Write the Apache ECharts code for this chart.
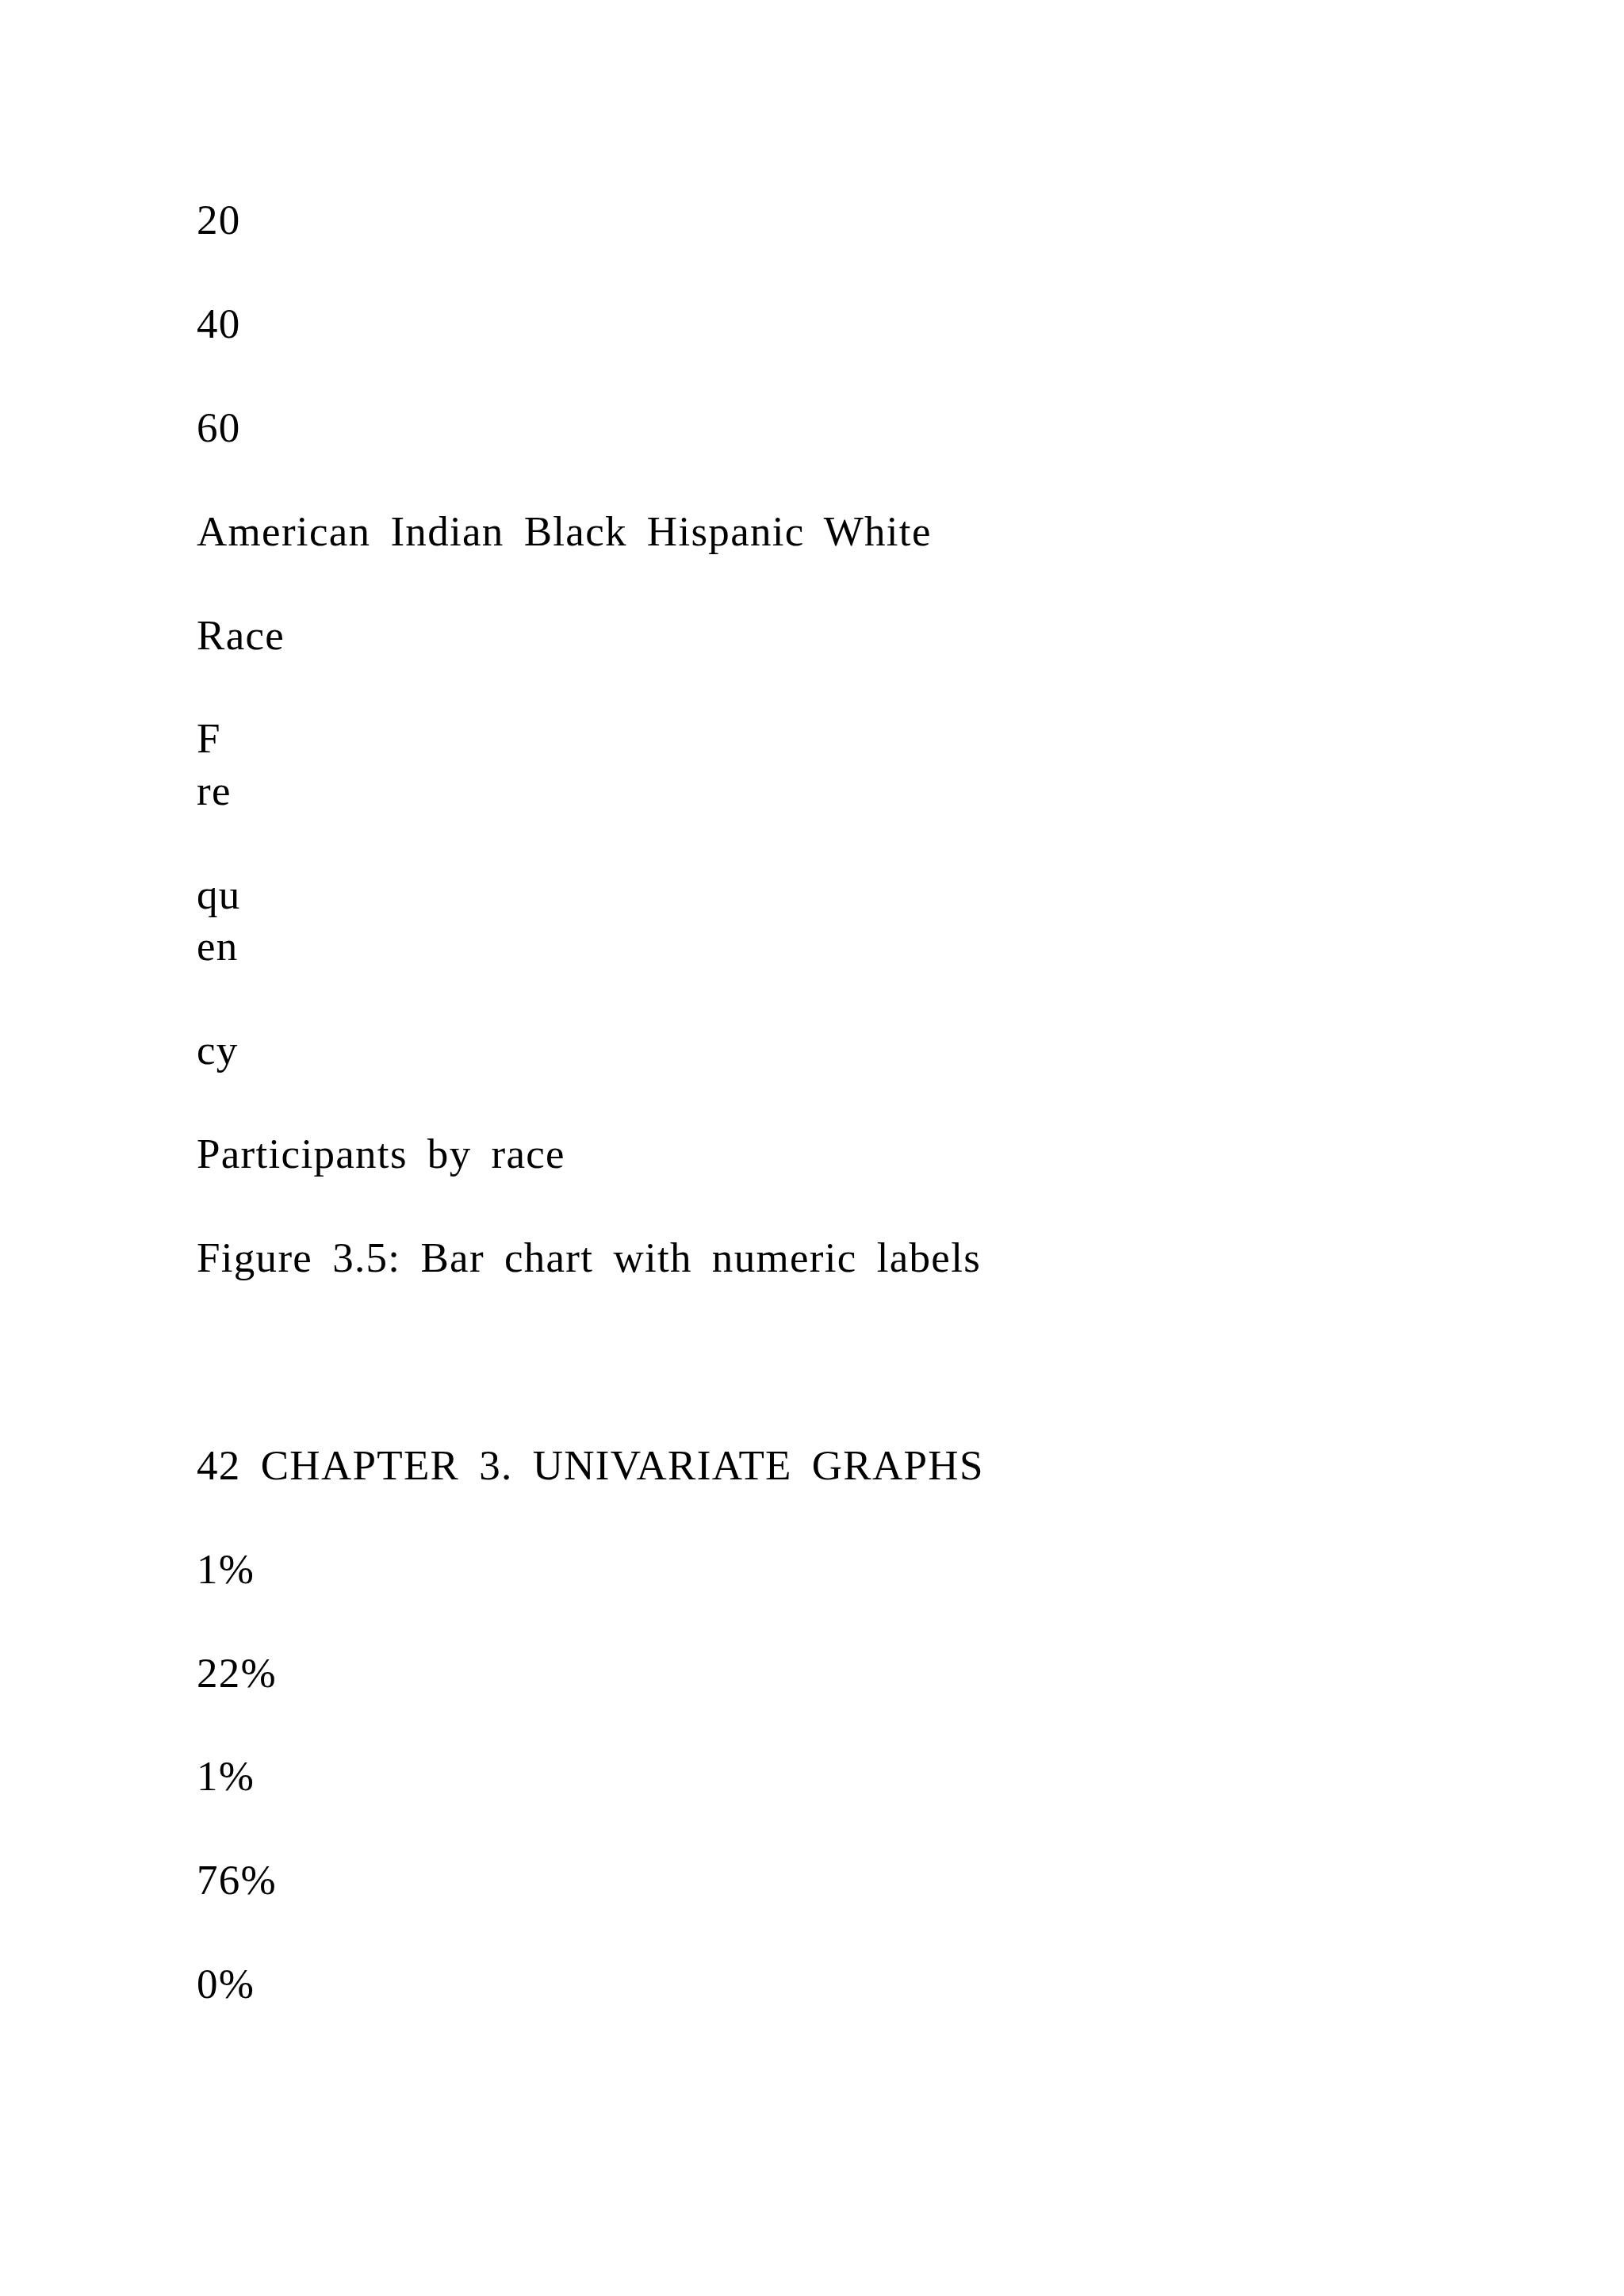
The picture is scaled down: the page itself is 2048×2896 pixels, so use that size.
<!DOCTYPE html>
<html>
<head>
<meta charset="utf-8">
<script src="https://cdn.jsdelivr.net/npm/echarts@6/dist/echarts.min.js"></script>
<style>
    html, body { margin: 0; padding: 0; background: #fff; }
    #main { width: 2048px; height: 2896px; }
    /* the page text is set a little loose, like the printed source */
    #main text { letter-spacing: 1.3px; word-spacing: 10.5px; }
</style>
</head>
<body>
<div id="main"></div>
<script>
// text pieces, top to bottom
var yTicks = ['20', '40', '60'];
var categories = ['American Indian', 'Black', 'Hispanic', 'White'];
var xTitle = 'Race';
var yTitleParts = ['F', 're', 'qu', 'en', 'cy'];
var chartTitle = 'Participants by race';
var caption = 'Figure 3.5: Bar chart with numeric labels';
var pageHeader = '42 CHAPTER 3. UNIVARIATE GRAPHS';
var pctLabels = ['1%', '22%', '1%', '76%', '0%'];

var chart;

(function () {
    chart = echarts.init(document.getElementById('main'), null, {renderer: 'svg'});

    // line slots on the page (1 = one full line of text)
    var lines = [];
    var slot = 0;
    yTicks.forEach(function (t) {
        lines.push({text: t, slot: slot});
        slot += 1;
    });
    lines.push({text: categories.join(' '), slot: slot});
    slot += 1;
    lines.push({text: xTitle, slot: slot});
    slot += 1;
    // "Frequency" split in little pieces, some half a line apart
    var partGaps = [0.5, 1, 0.5, 1, 1];
    yTitleParts.forEach(function (t, i) {
        lines.push({text: t, slot: slot});
        slot += partGaps[i];
    });
    lines.push({text: chartTitle, slot: slot});
    slot += 1;
    lines.push({text: caption, slot: slot});
    slot += 2;
    lines.push({text: pageHeader, slot: slot});
    slot += 1;
    pctLabels.forEach(function (t) {
        lines.push({text: t, slot: slot});
        slot += 1;
    });

    var left = 248;
    var firstBaseline = 295;
    var lineStep = 130.9;
    var fontSize = 53;

    var elements = lines.map(function (l) {
        return {
            type: 'text',
            left: left,
            top: firstBaseline + l.slot * lineStep - fontSize * 0.34 - fontSize / 2,
            style: {
                text: l.text,
                fill: '#000',
                font: fontSize + 'px "Liberation Serif", "Times New Roman", serif'
            }
        };
    });

    chart.setOption({
        backgroundColor: '#fff',
        animation: false,
        graphic: {elements: elements}
    });
})();
</script>
</body>
</html>
